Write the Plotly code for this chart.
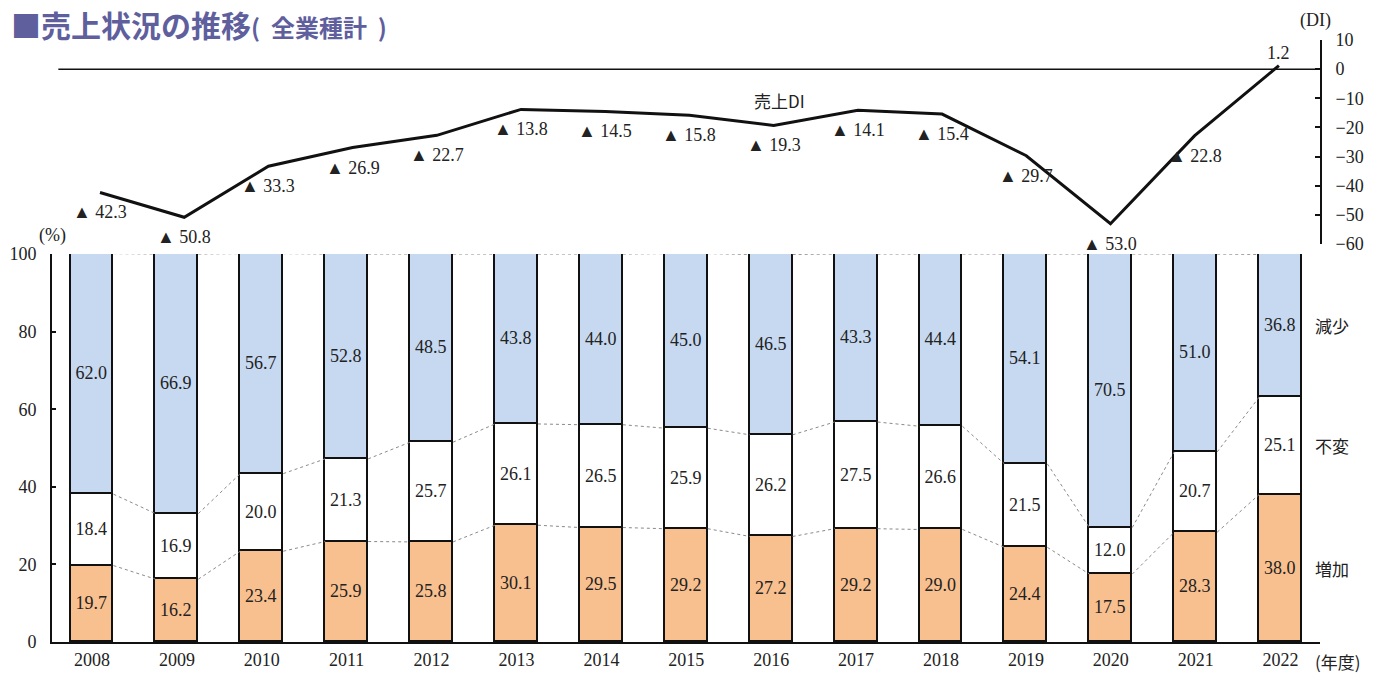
import plotly.graph_objects as go

# 年度
years = [2008, 2009, 2010, 2011, 2012, 2013, 2014, 2015,
         2016, 2017, 2018, 2019, 2020, 2021, 2022]
# 売上の増減（%）
increase = [19.7, 16.2, 23.4, 25.9, 25.8, 30.1, 29.5, 29.2,
            27.2, 29.2, 29.0, 24.4, 17.5, 28.3, 38.0]
unchanged = [18.4, 16.9, 20.0, 21.3, 25.7, 26.1, 26.5, 25.9,
             26.2, 27.5, 26.6, 21.5, 12.0, 20.7, 25.1]
decrease = [62.0, 66.9, 56.7, 52.8, 48.5, 43.8, 44.0, 45.0,
            46.5, 43.3, 44.4, 54.1, 70.5, 51.0, 36.8]
# 売上DI（増加 − 減少）
sales_di = [-42.3, -50.8, -33.3, -26.9, -22.7, -13.8, -14.5, -15.8,
            -19.3, -14.1, -15.4, -29.7, -53.0, -22.8, 1.2]

pct_ticks = [0, 20, 40, 60, 80, 100]
di_ticks = [10, 0, -10, -20, -30, -40, -50, -60]

SERIF = "Liberation Serif"
JP = "Noto Sans CJK JP"
INK = "#222222"
BLUE = "#C6D9F1"
ORANGE = "#F9C08F"
BAR_W = 0.506
FS = 18

fig = go.Figure()

segments = [("増加", increase, ORANGE), ("不変", unchanged, "#FFFFFF"), ("減少", decrease, BLUE)]
for name, vals, color in segments:
    fig.add_trace(go.Bar(
        x=years, y=vals, name=name, width=BAR_W,
        marker=dict(color=color, line=dict(color="#111111", width=1.6)),
        texttemplate="%{y:.1f}", textposition="inside", insidetextanchor="middle",
        textangle=0, constraintext="none",
        textfont=dict(family=SERIF, size=FS, color=INK),
        xaxis="x", yaxis="y", showlegend=False, hoverinfo="skip",
    ))

# 棒の区切りを結ぶ点線
cum1 = increase
cum2 = [a + b for a, b in zip(increase, unchanged)]
cum3 = [a + b + c for a, b, c in zip(increase, unchanged, decrease)]
for level in (cum1, cum2, cum3):
    xs, ys = [], []
    for i in range(len(years) - 1):
        xs += [years[i] + BAR_W / 2, years[i + 1] - BAR_W / 2, None]
        ys += [level[i], level[i + 1], None]
    fig.add_trace(go.Scatter(
        x=xs, y=ys, mode="lines", xaxis="x", yaxis="y",
        line=dict(color="#8a8a8a", width=1, dash="dot"),
        showlegend=False, hoverinfo="skip",
    ))

# 売上DI の折れ線
fig.add_trace(go.Scatter(
    x=years, y=sales_di, mode="lines", xaxis="x2", yaxis="y2",
    line=dict(color="#111111", width=3), showlegend=False, hoverinfo="skip",
))

annotations = []
for yr, v in zip(years, sales_di):
    if v < 0:
        txt, shift = f"▲ {abs(v):.1f}", -20
    else:
        txt, shift = f"{v:.1f}", 13
    annotations.append(dict(
        x=yr, y=v, xref="x2", yref="y2", text=txt, showarrow=False,
        yshift=shift, font=dict(family=SERIF, size=FS, color=INK),
    ))

annotations.append(dict(
    x=2016.07, y=-10.6, xref="x2", yref="y2", text="売上DI", showarrow=False,
    font=dict(family=JP, size=17, color=INK),
))

# 右側の区分ラベル（2022年度の各区分の中央に揃える）
mids = [increase[-1] / 2,
        increase[-1] + unchanged[-1] / 2,
        increase[-1] + unchanged[-1] + decrease[-1] / 2]
for (name, _, _), m in zip(segments, mids):
    annotations.append(dict(
        x=0.9945, y=m, xref="paper", yref="y", text=name, showarrow=False,
        xanchor="left", font=dict(family=JP, size=17, color=INK),
    ))

annotations += [
    dict(x=0.9945, y=-0.033, xref="paper", yref="paper", text="(年度)",
         showarrow=False, xanchor="left", yanchor="middle",
         font=dict(family=JP, size=17, color=INK)),
    dict(x=0.0, y=0.676, xref="paper", yref="paper", text="(%)",
         showarrow=False, xanchor="center", yanchor="middle",
         font=dict(family=SERIF, size=FS, color=INK)),
    dict(x=0.9965, y=1.033, xref="paper", yref="paper", text="(DI)",
         showarrow=False, xanchor="center", yanchor="middle",
         font=dict(family=SERIF, size=FS, color=INK)),
    dict(x=-0.034, y=1.0664, xref="paper", yref="paper",
         text="<b>■売上状況の推移<span style='font-size:24px'>(  全業種計  )</span></b>",
         showarrow=False, xanchor="left", yanchor="top",
         font=dict(family=JP, size=30, color="#5F5F9E")),
]

fig.update_layout(
    width=1373, height=678, autosize=False,
    margin=dict(l=52, r=53, t=40, b=36, autoexpand=False),
    paper_bgcolor="white", plot_bgcolor="white",
    barmode="stack", bargap=0,
    annotations=annotations,
    shapes=[dict(type="line", xref="paper", yref="y2", x0=0.005, x1=1,
                 y0=0, y1=0, line=dict(color="#111111", width=1.5))],
    xaxis=dict(
        range=[2007.529, 2022.464], anchor="y", tickvals=years,
        ticktext=[str(y) for y in years], ticks="", showgrid=False, zeroline=False,
        showline=True, linecolor="#111111", linewidth=2, automargin=False,
        tickfont=dict(family=SERIF, size=FS, color=INK),
    ),
    yaxis=dict(
        domain=[0, 0.6445], range=[0, 100], anchor="x", tickvals=pct_ticks,
        ticks="inside", ticklen=4, tickwidth=2, tickcolor="#111111",
        showline=True, linecolor="#111111", linewidth=2, automargin=False,
        showgrid=False, zeroline=False, ticklabelstandoff=10,
        tickfont=dict(family=SERIF, size=FS, color=INK),
    ),
    xaxis2=dict(range=[2007.43, 2022.488], anchor="y2", visible=False,
                automargin=False),
    yaxis2=dict(
        domain=[0.661, 1], range=[-60, 10], anchor="x2", side="right",
        tickvals=di_ticks, ticks="inside", ticklen=5, tickwidth=2,
        tickcolor="#111111", showline=True, linecolor="#111111", linewidth=2,
        showgrid=False, zeroline=False, ticklabelstandoff=10, automargin=False,
        tickfont=dict(family=SERIF, size=FS, color=INK),
    ),
)

fig.write_html("out.html")
